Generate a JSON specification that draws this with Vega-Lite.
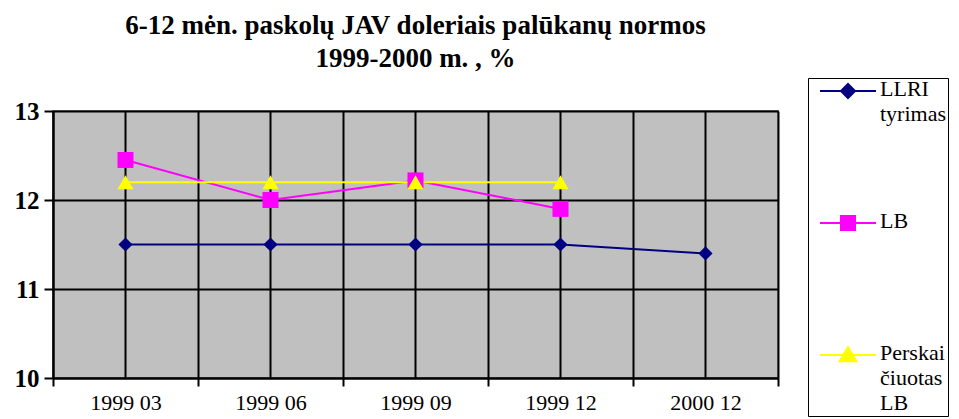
{
  "$schema": "https://vega.github.io/schema/vega-lite/v6.json",
  "width": 725,
  "height": 267,
  "autosize": {"type": "none"},
  "padding": {"left": 53, "top": 111, "right": 181, "bottom": 41},
  "background": "white",
  "title": {
    "text": ["6-12 mėn. paskolų JAV doleriais palūkanų normos", "1999-2000 m. , %"],
    "font": "Liberation Serif",
    "fontSize": 27,
    "fontWeight": "bold",
    "color": "black",
    "anchor": "middle",
    "lineHeight": 33,
    "offset": 5
  },
  "config": {
    "view": {"fill": "#C0C0C0", "stroke": "#808080", "strokeWidth": 2},
    "font": "Liberation Serif",
    "axis": {"labelFont": "Liberation Serif"},
    "legend": {"labelFont": "Liberation Serif"},
    "style": {"guide-label": {"font": "Liberation Serif"}}
  },
  "data": {
    "values": [
      {"period": "1999 03", "series": "LLRI tyrimas", "value": 11.5},
      {"period": "1999 06", "series": "LLRI tyrimas", "value": 11.5},
      {"period": "1999 09", "series": "LLRI tyrimas", "value": 11.5},
      {"period": "1999 12", "series": "LLRI tyrimas", "value": 11.5},
      {"period": "2000 12", "series": "LLRI tyrimas", "value": 11.4},
      {"period": "1999 03", "series": "LB", "value": 12.45},
      {"period": "1999 06", "series": "LB", "value": 12.0},
      {"period": "1999 09", "series": "LB", "value": 12.22},
      {"period": "1999 12", "series": "LB", "value": 11.9},
      {"period": "1999 03", "series": "Perskaičiuotas LB", "value": 12.2},
      {"period": "1999 06", "series": "Perskaičiuotas LB", "value": 12.2},
      {"period": "1999 09", "series": "Perskaičiuotas LB", "value": 12.2},
      {"period": "1999 12", "series": "Perskaičiuotas LB", "value": 12.2}
    ]
  },
  "encoding": {
    "x": {
      "field": "period",
      "type": "ordinal",
      "sort": ["1999 03", "1999 06", "1999 09", "1999 12", "2000 12"],
      "scale": {"type": "band", "paddingInner": 0, "paddingOuter": 0},
      "axis": {
        "title": null,
        "labelAngle": 0,
        "labelFont": "Liberation Serif",
        "labelFontSize": 22,
        "labelColor": "black",
        "tickBand": "extent",
        "tickSize": 8,
        "tickWidth": 2,
        "tickColor": "black",
        "domainColor": "black",
        "domainWidth": 2,
        "grid": true,
        "gridColor": "black",
        "gridWidth": 2,
        "gridOpacity": 1,
        "labelPadding": 6
      }
    },
    "y": {
      "field": "value",
      "type": "quantitative",
      "scale": {"domain": [10, 13], "nice": false, "zero": false},
      "axis": {
        "title": null,
        "values": [10, 11, 12, 13],
        "labelFont": "Liberation Serif",
        "labelFontSize": 25,
        "labelFontWeight": "bold",
        "labelColor": "black",
        "tickSize": 9,
        "tickWidth": 2,
        "tickColor": "black",
        "domainColor": "black",
        "domainWidth": 2,
        "grid": true,
        "gridColor": "black",
        "gridWidth": 2,
        "gridOpacity": 1,
        "labelPadding": 5
      }
    }
  },
  "layer": [
    {
      "transform": [{"filter": "datum.series === 'LLRI tyrimas'"}],
      "mark": {"type": "rule", "color": "black", "strokeWidth": 2},
      "encoding": {"y": {"datum": 10}, "y2": {"datum": 13}}
    },
    {
      "mark": {"type": "line", "strokeWidth": 2},
      "encoding": {
        "color": {
          "field": "series",
          "type": "nominal",
          "sort": ["LLRI tyrimas", "LB", "Perskaičiuotas LB"],
          "scale": {"domain": ["LLRI tyrimas", "LB", "Perskaičiuotas LB"], "range": ["#000080", "#FF00FF", "#FFFF00"]},
          "legend": {
            "title": null,
            "orient": "none",
            "legendX": 755,
            "legendY": -33,
            "padding": 2,
            "strokeColor": "black",
            "fillColor": "white",
            "labelFont": "Liberation Serif",
            "labelFontSize": 22,
            "labelColor": "black",
            "labelLimit": 200,
            "labelOffset": 21,
            "symbolOffset": 27,
            "symbolSize": 196,
            "symbolStrokeWidth": 2,
            "rowPadding": 60,
            "labelExpr": "datum.value === 'LLRI tyrimas' ? ['LLRI', 'tyrimas', ''] : datum.value === 'LB' ? ['LB', '', ''] : ['Perskai', 'čiuotas', 'LB']",
            "encode": {
              "symbols": {
                "update": {
                  "shape": {"signal": "datum.value === 'LLRI tyrimas' ? 'M-4,0L4,0M0,-1L1,0L0,1L-1,0Z' : datum.value === 'LB' ? 'M-4,0L4,0M-1,-1L1,-1L1,1L-1,1Z' : 'M-4,0L4,0M0,-1.1L1.2,0.9L-1.2,0.9Z'"},
                  "fill": {"signal": "scale('color', datum.value)"},
                  "stroke": {"signal": "scale('color', datum.value)"}
                }
              },
              "labels": {
                "update": {"baseline": {"value": "top"}, "lineHeight": {"value": 25}, "dy": {"value": -12}, "font": {"value": "Liberation Serif"}}
              }
            }
          }
        }
      }
    },
    {
      "transform": [{"filter": "datum.series === 'LLRI tyrimas'"}],
      "mark": {"type": "point", "filled": true, "opacity": 1, "shape": "diamond", "size": 200, "color": "#000080"}
    },
    {
      "transform": [{"filter": "datum.series === 'LB'"}],
      "mark": {"type": "point", "filled": true, "opacity": 1, "shape": "square", "size": 256, "color": "#FF00FF"}
    },
    {
      "transform": [{"filter": "datum.series === 'Perskaičiuotas LB'"}],
      "mark": {"type": "point", "filled": true, "opacity": 1, "shape": "triangle-up", "size": 260, "color": "#FFFF00"}
    }
  ]
}
